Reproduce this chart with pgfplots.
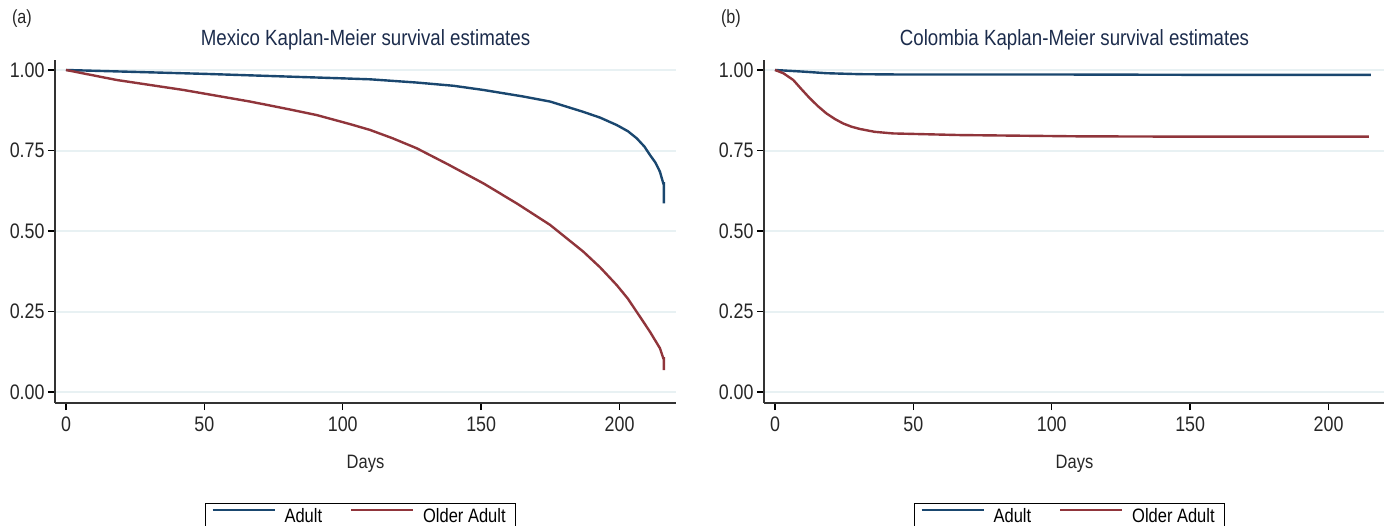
\documentclass[border=0pt]{standalone}
\usepackage{fontspec}
\setmainfont{Liberation Sans}[FakeStretch=0.85]
\usepackage{pgfplots}
\pgfplotsset{compat=1.18}

\definecolor{adultc}{HTML}{1A476F}
\definecolor{olderc}{HTML}{90353B}
\definecolor{gridc}{HTML}{E8F1F3}
\definecolor{titlec}{HTML}{1C2C4C}
\definecolor{axisc}{HTML}{333333}

% 1 px of the reference = 0.5pt
\pgfplotsset{
  km/.style={
    scale only axis, width=310.5pt, height=171.5pt, anchor=south west,
    xmin=-3.97, xmax=220.4, ymin=-0.034, ymax=1.031,
    axis x line*=bottom, axis y line*=left,
    axis line style={draw=axisc, line width=0.9pt, -},
    xtick={0,50,100,150,200}, ytick={0,0.25,0.5,0.75,1},
    /pgf/number format/assume math mode=true,
    ticklabel style={font=\fontsize{10.5}{12}\selectfont, color=black!85},
    yticklabel style={xshift=1.8pt, /pgf/number format/.cd, fixed, fixed zerofill, precision=2},
    tick align=outside, major tick length=3.5pt,
    tick style={line width=0.7pt, color=black},
    minor tick num=0,
    ymajorgrids, grid style={gridc, line width=1pt},
    xlabel={Days},
    xlabel style={at={(axis description cs:0.5,-0.178)}, anchor=center,
      font=\fontsize{9.7}{11}\selectfont, color=black!85},
    title style={at={(axis description cs:0.5,1.023)}, anchor=center, yshift=0pt,
      font=\fontsize{11}{12}\selectfont, color=titlec},
    clip=false,
    legend columns=2,
    legend style={at={(axis description cs:0.2415,-0.2915)}, anchor=north west,
      draw=black, line width=0.6pt, font=\fontsize{9.7}{10}\selectfont,
      inner xsep=3pt, inner ysep=0.5pt,
      /tikz/every odd column/.append style={column sep=2.5pt},
      /tikz/every even column/.append style={column sep=12pt}},
    legend image code/.code={\draw[#1, line width=1pt] (0pt,3.4pt) -- (31pt,3.4pt);},
  },
  adult/.style={adultc, line width=1.2pt},
  older/.style={olderc, line width=1.2pt},
}

\begin{document}
\begin{tikzpicture}
\useasboundingbox (0,0) rectangle (692pt,-262.5pt);

\begin{axis}[km, at={(27.5pt,-201.5pt)}, title={Mexico Kaplan-Meier survival estimates}]
\addplot[adult] coordinates {
  (0,1.0) (25,0.994) (50,0.988) (75,0.981) (100,0.974) (110,0.971)
  (126.7,0.961) (140,0.951) (150.8,0.938) (165,0.918) (174.9,0.902)
  (186.9,0.870) (193,0.852) (199,0.829) (203,0.810) (206.2,0.788)
  (209,0.762) (211,0.736) (213,0.712) (214.6,0.684) (215.8,0.648)
  (216,0.648) (216,0.586)
};
\addplot[older] coordinates {
  (0,1.0) (18.3,0.969) (42.4,0.938) (66.5,0.902) (80,0.879) (90.6,0.860)
  (102.6,0.832) (109.8,0.814) (118,0.788) (126.7,0.757) (138,0.707)
  (150.8,0.648) (163,0.585) (174.9,0.519) (186.9,0.436) (193,0.387)
  (199,0.332) (203,0.290) (206.2,0.249) (209,0.213) (211,0.187)
  (214.6,0.136) (215.8,0.105) (216,0.105) (216,0.068)
};
\legend{Adult, Older Adult}
\end{axis}

\begin{axis}[km, at={(382pt,-201.5pt)}, title={Colombia Kaplan-Meier survival estimates}]
\addplot[adult] coordinates {
  (0,1.0) (10,0.995) (18.6,0.990) (30.6,0.987) (45,0.986) (100,0.986)
  (150,0.985) (215.3,0.985)
};
\addplot[older] coordinates {
  (0,1.0) (3,0.99) (6.6,0.969) (9.6,0.940) (12.6,0.912) (15.6,0.887)
  (18.6,0.865) (21.6,0.848) (24.6,0.834) (27.6,0.824) (30.6,0.817)
  (36,0.808) (42.6,0.803) (66.6,0.798) (109.8,0.794) (150,0.793)
  (214.6,0.793)
};
\legend{Adult, Older Adult}
\end{axis}

\begin{scope}[x=0.5pt, y=-0.5pt]
\node[anchor=west, font=\fontsize{9.5}{11}\selectfont, color=black!85] at (5,19) {(a)};
\node[anchor=west, font=\fontsize{9.5}{11}\selectfont, color=black!85] at (714,19) {(b)};
\end{scope}
\end{tikzpicture}
\end{document}
